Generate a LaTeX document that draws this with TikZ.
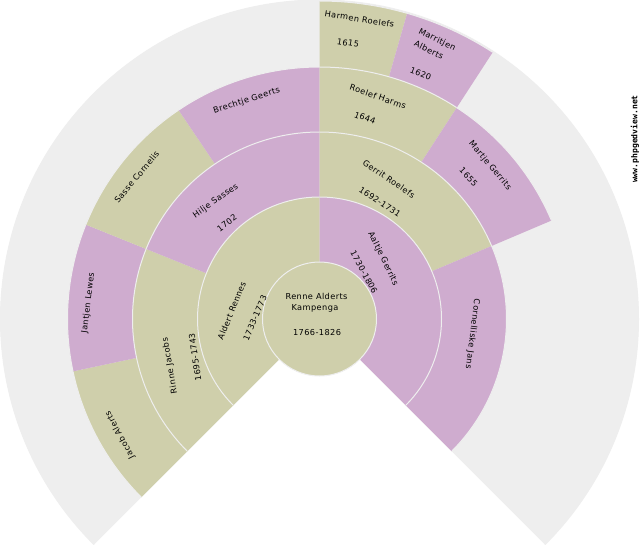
\documentclass[tikz,border=0pt]{standalone}
\usepackage{fontspec}
\setmainfont{DejaVu Sans}[LetterSpace=5]
\newfontfamily\wwwfont{DejaVu Sans Mono}
\definecolor{khakifill}{HTML}{CFCFAB}
\definecolor{purplefill}{HTML}{CFACCF}
\definecolor{fangray}{HTML}{EEEEEE}
\newcommand{\fansector}[5]{%
  \fill[#5] (#1:#3) arc[start angle=#1,end angle=#2,radius=#3] -- (#2:#4) arc[start angle=#2,end angle=#1,radius=#4] -- cycle;
  \draw[fanline] (#1:#4) arc[start angle=#1,end angle=#2,radius=#4];}
\tikzset{
  x=1pt,y=1pt,
  fanline/.style={draw=fangray,line width=1pt},
  label/.style={font=\fontsize{8.2}{9}\selectfont,inner sep=0pt,text=black},
}
\begin{document}
\begin{tikzpicture}
\useasboundingbox (0,0) rectangle (640,-550);
\fill[white] (0,0) rectangle (640,-550);
\begin{scope}[shift={(319.5,-319)}]
  % ring 4
  \fansector{-45}{225}{0}{319}{fangray}
  \fansector{90}{74}{252}{318}{khakifill}
  \fansector{74}{57}{252}{318}{purplefill}
  % ring 3
  \fansector{225}{192}{187}{252}{khakifill}
  \fansector{192}{158}{187}{252}{purplefill}
  \fansector{158}{124}{187}{252}{khakifill}
  \fansector{124}{90}{187}{252}{purplefill}
  \fansector{90}{57}{187}{252}{khakifill}
  \fansector{57}{23}{187}{252}{purplefill}
  % ring 2
  \fansector{225}{158}{122}{187}{khakifill}
  \fansector{158}{90}{122}{187}{purplefill}
  \fansector{90}{23}{122}{187}{khakifill}
  \fansector{23}{-45}{122}{187}{purplefill}
  % ring 1
  \fansector{225}{90}{57}{122}{khakifill}
  \fansector{90}{-45}{57}{122}{purplefill}
  % centre
  \fill[khakifill,fanline] (0,0) circle[radius=57];
\end{scope}
\begin{scope}[y=-1pt]
  \node[label] (c1) at (316.5,296) {Renne Alderts};
  \node[label] (c2) at (315,308) {Kampenga};
  \node[label] (c3) at (317,333) {1766-1826};
  \node[label,rotate=-9] (n1) at (359.5,19) {Harmen Roelefs};
  \node[label,rotate=-9] (n2) at (348,43) {1615};
  \node[label,rotate=-26] (n3) at (437,40) {Marritjen};
  \node[label,rotate=-26] (n4) at (429,50) {Alberts};
  \node[label,rotate=-22] (n5) at (420.7,73.7) {1620};
  \node[label,rotate=-19] (n6) at (378,96.7) {Roelef Harms};
  \node[label,rotate=-20] (n7) at (365,118) {1644};
  \node[label,rotate=-50] (n8) at (490,165.7) {Martje Gerrits};
  \node[label,rotate=-47] (n9) at (468.7,177) {1655};
  \node[label,rotate=-34] (n10) at (389,179) {Gerrit Roelefs};
  \node[label,rotate=-34] (n11) at (380,202) {1692-1731};
  \node[label,rotate=-64] (n12) at (383,258.7) {Aaltje Gerrits};
  \node[label,rotate=-62] (n13) at (364,272) {1730-1806};
  \node[label,rotate=-97] (n14) at (472.5,334) {Cornelliske Jans};
  \node[label,rotate=18] (n15) at (246.7,100.7) {Brechtje Geerts};
  \node[label,rotate=50] (n16) at (136.7,177) {Sasse Cornelis};
  \node[label,rotate=35] (n17) at (215.7,201) {Hilje Sasses};
  \node[label,rotate=37] (n18) at (227,223) {1702};
  \node[label,rotate=83] (n19) at (88.3,303) {Jantjen Lewes};
  \node[label,rotate=100] (n20) at (170,365.7) {Rinne Jacobs};
  \node[label,rotate=98] (n21) at (195,357) {1695-1743};
  \node[label,rotate=68] (n22) at (231.7,310.7) {Aldert Rennes};
  \node[label,rotate=67] (n23) at (255,318) {1733-1773};
  \node[label,rotate=118] (n24) at (120,435) {Jacob Alerts};
  \node[inner sep=0pt,rotate=90,font=\wwwfont\bfseries\fontsize{8.1}{9}\selectfont] (web) at (635,139) {www.phpgedview.net};
\end{scope}
\end{tikzpicture}
\end{document}
